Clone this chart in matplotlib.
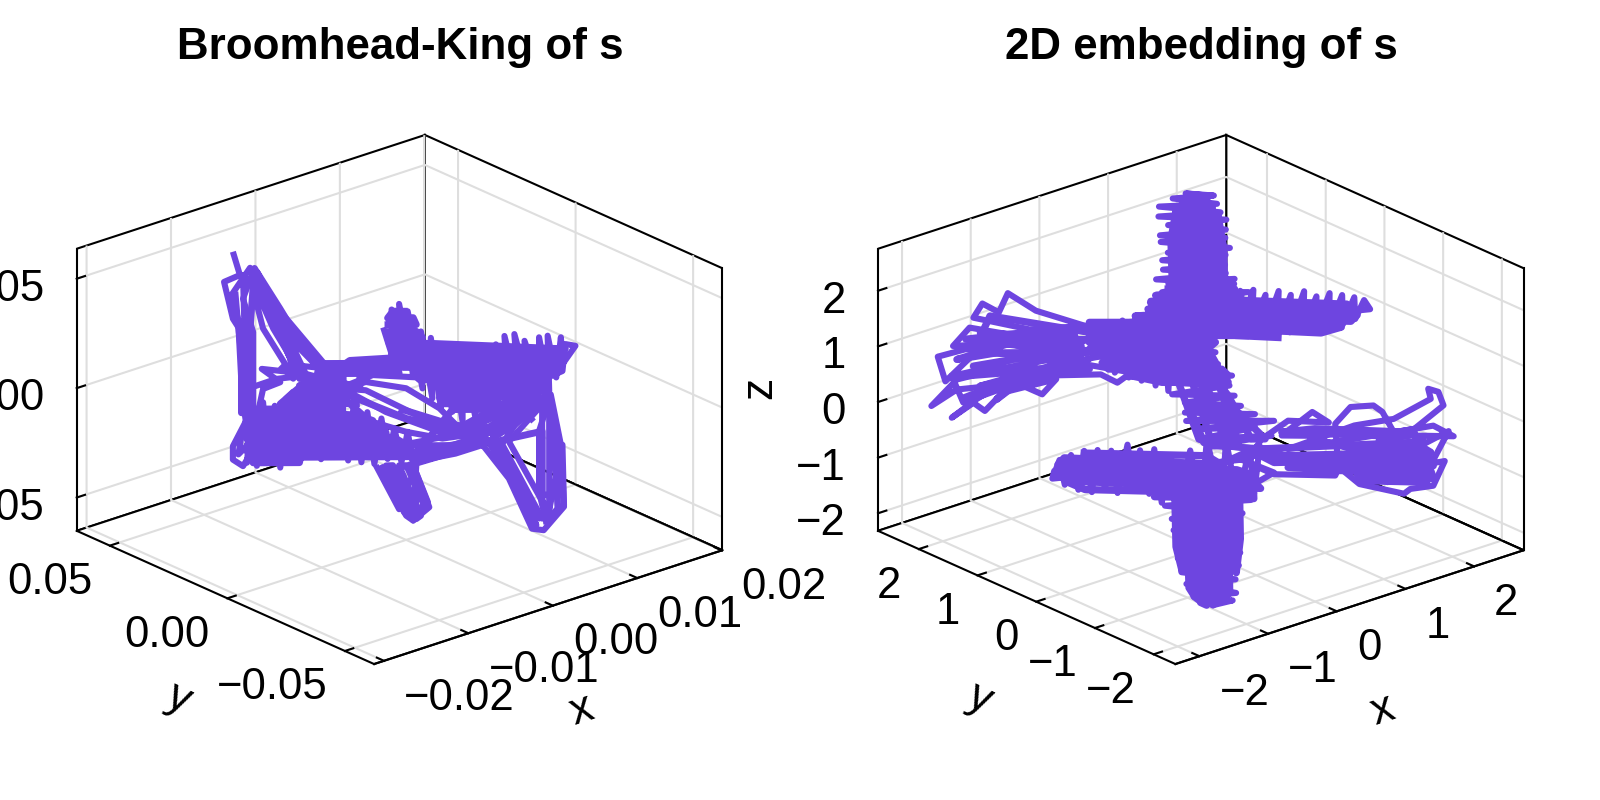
import numpy as np
import matplotlib
matplotlib.use('Agg')
import matplotlib.pyplot as plt
from mpl_toolkits.mplot3d import proj3d

plt.rcParams['font.family'] = ['Liberation Sans', 'DejaVu Sans']

PURPLE = '#6e45e0'
nan = float('nan')  # breaks a line

# Broomhead-King panel
# spikes and the strands on the left
bk_x = [-.0120, -.0115, -.0126, -.0120, -.0114, -.0113, -.0112, -.0109, -.0097,
        -.0113, -.0113, -.0121, -.0108, -.0094, -.0078, -.0058, -.0039, -.0074, -.0092, -.0103,
        -.0113, -.0112, -.0110, -.0090, -.0069, -.0103, -.0087, -.0069, -.0055, -.0076,
        -.0089, -.0105, -.0099, -.0080, -.0100, -.0087, -.0099,
        # lower left mass
        -.0110, -.0107, -.0103, -.0099, -.0095, -.0091, -.0087, -.0082, -.0077, -.0072,
        -.0068, -.0063, -.0059, -.0054, -.0049, -.0045, -.0040, -.0036, -.0031, -.0027,
        -.0022, -.0017, -.0013, -.0008, -.0003, .0001, .0005, .0009,
        # small loop
        -.0110, -.0120, -.0120, -.0113, -.0106, -.0108, -.0114, -.0116, -.0106,
        # crossing strands
        -.0064, -.0039, -.0012, .0018, -.0023, -.0064, -.0028, .0000, .0023, .0037,
        .0005, -.0028, -.0044, -.0014, .0023, .0060, .0025, .0000, -.0046, .0000,
        .0032, .0060, .0005, .0034, .0053, .0078, .0099, .0060, .0032, -.0005, nan,
        # right blob
        -.0016, -.0009, -.0010, -.0002, -.0005, .0005, .0001, .0011, .0010, .0018,
        .0017, .0024, .0023, .0032, .0031, .0039, .0039, .0048, .0047, .0055,
        .0055, .0062, .0062, .0071, .0068, .0078, .0075, .0085, .0082, .0092,
        .0092, .0099, .0098, .0104, .0107, .0108, .0117, .0110, .0108, .0087, nan,
        # lobes
        -.0021, -.0005, .0007, .0005, .0016, .0005, -.0009, .0001, .0011, nan,
        .0053, .0071, .0087, .0095, .0109, .0107, .0100, .0092, .0092, .0097, .0105, .0101, .0097,
        .0060, .0078, .0092, .0087, .0064, .0082, .0088]
bk_y = [.0306, .0294, .0322, .0306, .0291, .0288, .0285, .0279, .0247,
        .0288, .0289, .0309, .0276, .0241, .0200, .0147, .0100, .0188, .0235, .0265,
        .0288, .0285, .0282, .0229, .0176, .0265, .0223, .0176, .0141, .0194,
        .0226, .0268, .0253, .0206, .0255, .0223, .0253,
        .0282, .0273, .0265, .0253, .0244, .0232, .0223, .0209, .0197, .0185,
        .0173, .0162, .0150, .0138, .0126, .0115, .0103, .0091, .0079, .0068,
        .0056, .0044, .0032, .0021, .0009, -.0003, -.0012, -.0024,
        .0282, .0306, .0306, .0288, .0270, .0276, .0291, .0297, .0270,
        .0165, .0100, .0029, -.0047, .0059, .0165, .0071, .0000, -.0059, -.0094,
        -.0012, .0071, .0112, .0035, -.0059, -.0153, -.0065, .0000, .0118, .0000,
        -.0082, -.0153, -.0012, -.0088, -.0135, -.0200, -.0253, -.0153, -.0082, .0012, nan,
        .0040, .0024, .0026, .0006, .0012, -.0012, -.0003, -.0030, -.0027, -.0047,
        -.0044, -.0062, -.0059, -.0082, -.0079, -.0100, -.0100, -.0123, -.0120, -.0141,
        -.0141, -.0159, -.0159, -.0182, -.0174, -.0200, -.0191, -.0218, -.0209, -.0235,
        -.0235, -.0253, -.0250, -.0265, -.0274, -.0277, -.0300, -.0282, -.0277, -.0223, nan,
        .0053, .0012, -.0018, -.0012, -.0041, -.0012, .0024, -.0003, -.0030, nan,
        -.0135, -.0182, -.0223, -.0244, -.0280, -.0274, -.0256, -.0235, -.0235, -.0247, -.0268, -.0259, -.0247,
        -.0153, -.0200, -.0235, -.0223, -.0165, -.0209, -.0226]
bk_z = [.0669, .0562, .0531, .0363, .0301, .0117, -.0067, -.0189, -.0097,
        -.0067, .0286, .0470, .0595, .0431, .0255, .0117, .0056, .0117, .0317, .0485,
        .0562, .0301, .0041, .0087, .0102, .0577, .0408, .0209, .0133, .0148,
        .0393, .0470, .0317, .0117, .0133, .0071, .0041,
        -.0296, -.0051, -.0311, -.0020, -.0296, -.0036, -.0319, .0002, -.0296, .0041,
        -.0265, .0071, -.0281, .0087, -.0265, .0025, -.0288, -.0005, -.0296, -.0067,
        -.0304, -.0097, -.0281, -.0143, -.0296, -.0158, -.0304, -.0220,
        -.0097, -.0220, -.0281, -.0311, -.0235, -.0128, -.0174, -.0258, -.0189,
        .0056, .0171, .0182, .0087, .0102, -.0005, .0071, .0041, -.0051, -.0143,
        -.0074, .0033, .0041, -.0067, -.0158, -.0158, -.0189, -.0158, -.0067, -.0220,
        -.0220, -.0158, -.0296, -.0258, -.0220, -.0113, .0010, -.0097, -.0174, -.0220, nan,
        .0320, .0179, .0401, .0148, .0427, .0102, .0393, .0041, .0301, -.0005,
        .0271, -.0051, .0232, -.0067, .0232, -.0113, .0194, -.0097, .0232, -.0082,
        .0194, -.0051, .0240, -.0020, .0278, .0010, .0286, .0041, .0255, .0056,
        .0271, .0025, .0278, .0087, .0271, .0148, .0232, .0240, .0117, .0056, nan,
        -.0311, -.0511, -.0311, -.0564, -.0503, -.0311, -.0327, -.0541, -.0434, nan,
        -.0220, -.0373, -.0603, -.0610, -.0503, -.0220, .0010, -.0158, -.0434, -.0572, -.0511, -.0158, .0002,
        -.0174, -.0373, -.0557, -.0511, -.0235, -.0067, -.0113]

# second pass, the dense parts of the same trajectory
bk2_x = [-.0041, -.0064, -.0074, -.0044, -.0044, -.0078, -.0083, -.0044, -.0044, -.0108,
         -.0109, -.0034, -.0023, -.0110, -.0110, -.0016, -.0014, -.0110, -.0110, -.0007,
         .0000, -.0110, -.0110, .0000, .0005, -.0108, -.0106, -.0074,
         # centre band
         -.0060, -.0005, -.0005, -.0060, -.0060, -.0005,
         # right blob
         -.0013, .0007, .0011, -.0013, -.0012, .0016, .0110, -.0010, -.0010, .0110,
         .0108, -.0007, -.0002, .0105, .0101, .0005, .0009, .0098, .0092, .0023,
         .0023, .0085, .0076, .0023, .0025, .0064, .0055, .0032,
         # long strands
         .0005, .0037, .0060, .0097, .0097, .0060, .0037, .0007,
         -.0051, .0000, .0037, .0060, .0032, -.0005, nan,
         # left strands
         -.0116, -.0114, -.0114, -.0108, -.0108,
         -.0105, -.0092, -.0056, -.0060, -.0095, -.0107, nan,
         # lobes
         -.0017, -.0001, .0009, .0013, .0002,
         .0057, .0076, .0090, .0085, .0062, .0094, .0094, .0107, .0105, .0098]
bk2_y = [.0106, .0165, .0188, .0112, .0112, .0200, .0212, .0112, .0112, .0276,
         .0279, .0088, .0059, .0282, .0282, .0041, .0035, .0282, .0282, .0018,
         .0000, .0282, .0282, .0000, -.0012, .0276, .0270, .0188,
         .0153, .0012, .0012, .0153, .0153, .0012,
         .0032, -.0018, -.0030, .0032, .0029, -.0041, -.0282, .0026, .0026, -.0282,
         -.0277, .0018, .0006, -.0268, -.0259, -.0012, -.0024, -.0250, -.0235, -.0059,
         -.0059, -.0218, -.0195, -.0059, -.0065, -.0165, -.0141, -.0082,
         -.0012, -.0094, -.0153, -.0247, -.0247, -.0153, -.0094, -.0018,
         .0129, .0000, -.0094, -.0153, -.0082, .0012, nan,
         .0295, .0291, .0291, .0277, .0277,
         .0268, .0235, .0144, .0153, .0244, .0273, nan,
         .0044, .0003, -.0024, -.0033, -.0005,
         -.0146, -.0195, -.0229, -.0218, -.0159, -.0241, -.0241, -.0274, -.0268, -.0250]
bk2_z = [.0087, .0087, .0056, .0056, .0025, .0025, -.0005, -.0005, -.0051, -.0051,
         -.0079, -.0079, -.0106, -.0106, -.0134, -.0134, -.0161, -.0161, -.0189, -.0189,
         -.0216, -.0216, -.0244, -.0244, -.0272, -.0272, -.0296, -.0296,
         .0156, .0156, .0133, .0133, .0110, .0110,
         .0301, .0301, .0274, .0274, .0246, .0246, .0218, .0218, .0191, .0191,
         .0163, .0163, .0136, .0136, .0108, .0108, .0081, .0081, .0053, .0053,
         .0025, .0025, -.0002, -.0002, -.0030, -.0030, -.0057, -.0057,
         -.0273, -.0220, -.0128, .0041, -.0005, -.0143, -.0243, -.0296,
         .0041, -.0097, -.0158, -.0143, -.0128, -.0051, nan,
         .0332, .0102, -.0067, -.0067, .0301,
         .0592, .0431, .0148, .0133, .0416, .0577, nan,
         -.0311, -.0526, -.0541, -.0465, -.0311,
         -.0204, -.0403, -.0587, -.0541, -.0204, -.0158, -.0449, -.0449, -.0189, -.0005]

# rows that close the gaps in the mass and at the top of the blob
bk3_x = [-.0062, -.0032, -.0032, -.0074, -.0087, -.0032, nan, -.0015, .0007, .0005, -.0013, -.0009, .0001]
bk3_y = [.0159, .0082, .0082, .0188, .0223, .0082, nan, .0038, -.0018, -.0012, .0032, .0024, -.0003]
bk3_z = [.0117, .0117, .0048, .0048, -.0028, -.0028, nan, .0332, .0332, .0363, .0363, .0393, .0393]

# more of the strands under the left spikes
bk4_x = [-.0118, -.0116, -.0110, -.0106, -.0106, -.0113, -.0107, -.0087, -.0069, -.0074, -.0100, -.0080, -.0078, -.0087]
bk4_y = [.0303, .0295, .0282, .0270, .0270, .0288, .0273, .0223, .0176, .0188, .0255, .0206, .0200, .0223]
bk4_z = [.0485, .0301, -.0067, -.0067, .0301, .0454, .0562, .0317, .0087, .0087, .0470, .0179, .0087, .0148]

# lower lobes
bk5_x = [-.0018, .0000, .0005, -.0014, -.0009, .0007, .0010, -.0005, .0000, .0014, .0015, .0005]
bk5_y = [.0047, .0000, -.0012, .0035, .0024, -.0018, -.0027, .0012, .0000, -.0035, -.0039, -.0012]
bk5_z = [-.0311, -.0541, -.0564, -.0311, -.0311, -.0557, -.0541, -.0311, -.0311, -.0511, -.0480, -.0311]

bk6_x = [.0064, .0094, .0097, .0071, .0094, .0094, .0099, .0099, .0104, .0105, .0109, .0108, .0097]
bk6_y = [-.0165, -.0241, -.0247, -.0182, -.0241, -.0241, -.0253, -.0253, -.0265, -.0268, -.0280, -.0277, -.0247]
bk6_z = [-.0189, -.0557, -.0511, -.0204, -.0036, -.0465, -.0572, -.0036, -.0189, -.0511, -.0496, -.0220, -.0587]

# solid wedge under the right blob
bk7_x = [.0032, .0087, .0094, .0041, .0048, .0099, nan, .0005, .0055, .0046, .0005]
bk7_y = [-.0082, -.0223, -.0241, -.0106, -.0123, -.0253, nan, -.0012, -.0141, -.0117, -.0012]
bk7_z = [-.0158, .0041, .0041, -.0158, -.0189, -.0005, nan, -.0281, -.0189, -.0204, -.0251]

# 2D embedding panel
# left fan
emb_x = [-.72, -1.27, -1.49, -1.56, -1.69, -1.76, -1.32, -.85, -1.27, -1.79, -1.92, -1.48, -.91, -1.48, -1.82,
         -2.04, -1.98, -1.76, -1.27, -1.69, -1.93, -1.84, -1.48, -.85, -1.22, -1.63, -1.89, -2.09, -1.89, -1.58,
         -1.04, -1.37, -1.22, -1.11, -1.53, -1.67, -1.76, -1.93, -1.74, -1.45, -.76, -.63, -.52, -1.11, -1.71,
         -.96, -1.58, -.85, -1.37, -.91, -1.17, -.59,
         # solid part of the left arm
         -.70, -.65, -.59, -.54, -.49, -.44, -.39, -.33, -.28, -.23, -.18, -.13,
         # centre of the upper cross
         -.23, .29, -.28, .40, -.37, .45, -.39, .50, -.46, .50, -.49, .45, -.49, .40, -.49, .08, -.49, .08, -.39,
         # upper arm
         .84, .31, .94, .53, 1.10, .69, 1.27, .90, 1.47, 1.01, 1.60, 1.17, 1.77, 1.40, 1.94, 1.49, 2.06, 1.66, 2.18,
         1.74, 2.10, 1.86, 2.06,
         # right arm of the upper cross
         .70, -.15, .74, -.01, .88, .13, .92, .19, 1.06, .35, 1.10, .41, 1.26, .57, 1.32, .65, 1.46, .81, 1.54, 1.01,
         1.58, 1.20, 1.62, 1.52, 1.32, .45, .05,
         # between the crosses
         -.28, .14, -.33, .16, -.28, .27, -.26, .25, -.20, .29, -.10, .34, -.10, .45, -.09, .60, -.01, .45, .01, .58,
         .08, .66, .34, .60, .42,
         # right fan
         .45, .60, 1.08, 1.11, 1.27, 1.62, 1.67, 1.85, 1.94, 1.75, 1.12, 1.49, 1.80, 1.97, 1.70, 1.23, 1.57, 1.83,
         1.42, 1.68, 2.01, 1.85, 1.23, .71, 1.23, 1.54, 1.83, 1.81, 1.89, 1.93, 1.70, 1.54, 1.45, 1.38, 1.20, 1.08,
         1.10, 1.64, 1.75, 1.18, 1.49, 1.83, 1.23, 1.77, 1.36, .86, .66, .90, 1.03, .71, .50, .40,
         # left arm of the lower cross
         -.44, -.07, -.43, .14, -.42, .34, -.36, .51, -.22, .58, -.14, .80, .04, .82, .09, .95, .05, 1.00, .12, 1.26,
         .30, 1.58, .46, 1.73, .71, 1.79, .96, 1.93,
         # lower arm
         .21, .81, .02, .50, -.18, .23, -.41, -.03, -.64, -.26, -.87, -.52, -1.09, -.79, -1.30, -1.03, -1.47, -1.53,
         -1.20, -1.45, -1.04]
emb_y = [.72, 1.27, 1.49, 1.56, 1.69, 1.76, 1.32, .85, 1.27, 1.79, 1.92, 1.48, .91, 1.48, 1.82,
         2.04, 1.98, 1.76, 1.27, 1.69, 1.93, 1.84, 1.48, .85, 1.22, 1.63, 1.89, 2.09, 1.89, 1.58,
         1.04, 1.37, 1.22, 1.11, 1.53, 1.67, 1.76, 1.93, 1.74, 1.45, .76, .63, .52, 1.11, 1.71,
         .96, 1.58, .85, 1.37, .91, 1.17, .59,
         .70, .65, .59, .54, .49, .44, .39, .33, .28, .23, .18, .13,
         .23, -.29, .28, -.40, .37, -.45, .39, -.50, .46, -.50, .49, -.45, .49, -.40, .49, -.08, .49, -.08, .39,
         .36, 1.07, .62, 1.21, .82, 1.41, 1.01, 1.56, 1.17, 1.81, 1.40, 2.01, 1.59, 2.14, 1.78, 2.41, 2.02, 2.60, 2.22,
         2.46, 2.18, 2.38, 2.26,
         .30, -.65, .14, -.71, .08, -.77, -.08, -.91, -.14, -.95, -.30, -1.09, -.34, -1.13, -.48, -1.25, -.54, -1.29,
         -.66, -1.29, -.82, -1.28, -.94, -1.16, -1.08, -.45, -.05,
         .28, -.14, .33, -.16, .28, -.27, .26, -.25, .20, -.29, .10, -.34, .10, -.45, .09, -.60, .01, -.45, -.01, -.58,
         -.08, -.66, -.34, -.60, -.42,
         -.45, -.60, -1.08, -1.11, -1.27, -1.62, -1.67, -1.85, -1.94, -1.75, -1.12, -1.49, -1.80, -1.97, -1.70, -1.23,
         -1.57, -1.83, -1.42, -1.68, -2.01, -1.85, -1.23, -.71, -1.23, -1.54, -1.83, -1.81, -1.89, -1.93, -1.70, -1.54,
         -1.45, -1.38, -1.20, -1.08, -1.10, -1.64, -1.75, -1.18, -1.49, -1.83, -1.23, -1.77, -1.36, -.86, -.66, -.90,
         -1.03, -.71, -.50, -.40,
         1.96, 2.27, 1.76, 2.32, 1.54, 2.33, 1.38, 2.30, 1.32, 2.15, 1.20, 2.13, 1.12, 1.94, .93, 1.85, .67, 1.63, .47,
         1.60, .29, 1.69, .13, 1.54, .15, 1.21, .16, 1.20,
         .92, .04, .58, -.18, .23, -.45, -.07, -.72, -.38, -1.03, -.68, -1.31, -1.00, -1.57, -1.33, -1.86, -1.65, -1.83,
         -2.00, -1.95, -1.59]
emb_z = [1.53, 1.88, 2.18, 1.83, 1.98, 1.72, 1.54, 1.64, 1.37, 1.54, 1.20, 1.29, 1.27, 1.08, 1.15,
         1.00, .56, 1.06, 1.13, .80, .66, .19, .51, 1.04, .77, .50, .42, .11, .60, .80,
         .87, .52, .38, .66, .39, .05, .19, -.09, .25, .69, .77, .63, .82, 1.02, 1.45,
         1.45, 1.34, 1.40, .91, 1.12, .89, 1.18,
         1.62, .81, 1.75, .73, 1.81, .68, 1.91, .60, 2.04, .51, 2.17, .85,
         2.46, 2.56, 2.28, 2.33, 2.12, 2.18, 1.97, 2.04, 1.85, 1.89, 1.69, 1.73, 1.54, 1.58, 1.39, 1.38, 1.24, 1.23, 1.13,
         1.94, 1.90, 1.97, 1.92, 1.96, 1.93, 1.98, 1.91, 1.95, 1.94, 1.97, 1.90, 1.96, 1.93, 1.98, 1.92, 1.95, 1.94, 1.96,
         2.12, 2.16, 2.20, 2.14,
         1.94, 1.92, 1.96, 1.93, 1.95, 1.97, 1.92, 1.94, 1.96, 1.91, 1.95, 1.93, 1.97, 1.94, 1.92, 1.96, 1.95, 1.93, 1.94,
         1.92, 1.96, 1.94, 1.95, 1.93, 1.94, 1.90, 1.50,
         1.32, 1.23, 1.08, 1.02, .84, .82, .66, .64, .45, .46, .31, .28, .13, .14, -.02, .03, -.16, -.10, -.34, -.24,
         -.46, -.47, -.68, -.90, -1.15,
         -.79, -.93, -.92, -.77, -1.06, -1.21, -1.12, -1.05, -.60, -.69, -.62, -1.01, -.81, -.06, -.40, -.43, -.83, -.45,
         -.27, -.16, -.15, .03, -.25, -.47, -.01, .13, .51, .69, .64, .40, -.04, -.11, .25, .36, .32, .01,
         -.68, -.94, -.51, -.86, -.59, -.93, -.73, -.21, -.54, -.22, -.23, .21, .03, .04, -.31, -.67,
         -1.80, -1.76, -1.82, -1.78, -1.81, -1.79, -1.80, -1.83, -1.78, -1.80, -1.82, -1.77, -1.81, -1.79, -1.80, -1.78,
         -1.82, -1.80, -1.79, -1.81, -1.80, -1.78, -1.82, -1.79, -1.81, -1.80, -1.78, -1.81,
         -1.80, -1.78, -1.82, -1.79, -1.81, -1.80, -1.78, -1.82, -1.80, -1.79, -1.81, -1.78, -1.82, -1.80, -1.79, -1.81,
         -1.80, -1.78, -1.81, -1.82, -1.79]

# second pass, the dense parts
emb2_x = [-.85, -1.63, -1.74, -1.11, -.85, -1.58, -1.89, -1.37, -.96, -1.71, -1.11, -.85, -1.50, -1.82, -1.27,
          -1.58, -1.37, -.91, -1.48, -1.11, -1.82, -1.37, -.98, -1.76, -1.24, -1.66, -1.87, nan,
          # centre of the upper cross
          -.26, .29, -.33, .34, -.37, .40, -.39, .45, -.49, .45, .45, -.85, -.85, .45, .40, -.85, -.85, .14, .08, -.85,
          -.80, .11, .14, -.75, -.70, .19, .24, -.52, -.28, .24,
          # upper arm
          -.07, 1.15, 1.75, -.03, .02, 1.95, 2.09, .07, .11, 2.13, 2.18, .16, .21, 2.16, 2.12, .25, .30, 2.01, 1.44, .34,
          .38, .87,
          # right arm
          .54, 1.42, 1.36, .43, .32, 1.28, 1.12, .21, .10, .93, .66, -.01, -.12, .24, nan,
          # between the crosses
          -.15, .01, .11, -.05, .06, .21, .32, .16, .24, .42, .53, .32, -.07, .05,
          # right fan
          .45, 1.70, 1.83, .50, .60, 1.85, 1.85, .71, 1.10, 1.83, 1.85, 1.25, 1.28, 1.80, 1.70, .92, .66, 1.44, nan,
          # lower cross, left arm
          .28, 1.27, 1.27, .04, -.12, 1.28, 1.30, -.26, -.38, 1.19, 1.14, -.40, -.35, .97, .87, .09,
          # lower arm
          .40, -.70, -1.08, .45, .49, -1.34, -1.48, .54, .59, -1.53, -1.51, .63, .68, -1.46, -1.35, .73, .77, -1.28,
          -1.08, .82, .87, -.66, -.01, .91]
emb2_y = [.85, 1.63, 1.74, 1.11, .85, 1.58, 1.89, 1.37, .96, 1.71, 1.11, .85, 1.50, 1.82, 1.27,
          1.58, 1.37, .91, 1.48, 1.11, 1.82, 1.37, .98, 1.76, 1.24, 1.66, 1.87, nan,
          .26, -.29, .33, -.34, .37, -.40, .39, -.45, .49, -.45, -.45, .85, .85, -.45, -.40, .85, .85, -.14, -.08, .85,
          .80, -.11, -.14, .75, .70, -.19, -.24, .52, .28, -.24,
          .34, 1.80, 2.41, .30, .25, 2.54, 2.60, .20, .16, 2.56, 2.51, .11, .06, 2.39, 2.23, .02, -.03, 2.01, 1.24, -.07,
          -.11, .47,
          .00, -.88, -1.07, -.13, -.26, -1.22, -1.30, -.39, -.52, -1.36, -1.33, -.65, -.78, -1.15, nan,
          .15, -.01, -.11, .05, -.06, -.21, -.32, -.16, -.24, -.42, -.53, -.32, .07, -.05,
          -.45, -1.70, -1.83, -.50, -.60, -1.85, -1.85, -.71, -1.10, -1.83, -1.85, -1.25, -1.28, -1.80, -1.70, -.92, -.66,
          -1.44, nan,
          2.32, 1.33, 1.09, 2.32, 2.24, .83, .57, 2.13, 2.01, .44, .26, 1.79, 1.51, .18, .06, .84,
          .86, -.45, -1.00, .81, .77, -1.42, -1.68, .72, .67, -1.84, -1.92, .63, .58, -1.97, -1.94, .53, .49, -1.95,
          -1.81, .44, .39, -1.43, -.74, .35]
emb2_z = [1.52, 1.76, 1.21, 1.38, 1.16, 1.10, .96, 1.36, 1.03, .49, .84, .86, .75, .67, .95,
          .26, .64, .97, 1.41, 1.56, 1.33, 1.24, 1.21, .85, .71, .44, .24, nan,
          2.34, 2.38, 2.22, 2.26, 2.09, 2.15, 1.97, 2.03, 1.84, 1.91, 1.79, 1.70, 1.58, 1.67, 1.55, 1.46, 1.34, 1.41, 1.29,
          1.22, 1.10, 1.17, 1.05, .98, .87, .93, .82, .76, .66, .70,
          1.94, 1.93, 1.95, 1.94, 1.93, 1.95, 1.94, 1.93, 1.95, 1.94, 1.93, 1.95, 1.94, 1.93, 1.95, 1.94, 1.93, 1.95, 1.94,
          1.93, 1.95, 1.94,
          1.94, 1.93, 1.95, 1.94, 1.93, 1.95, 1.94, 1.93, 1.95, 1.94, 1.93, 1.95, 1.94, 1.93, nan,
          .67, -.34, -.39, .74, .74, -.39, -.38, .69, .46, -.31, -.30, .16, .25, -.40,
          -.49, -.28, -.45, -.61, -.72, -.57, -.69, -.80, -.83, -.78, -.90, -.88, -1.00, -.99, -.10, -.09, -.17, -.18, nan,
          -1.80, -1.78, -1.82, -1.79, -1.81, -1.80, -1.78, -1.82, -1.80, -1.79, -1.81, -1.78, -1.82, -1.80, -1.79, -1.81,
          -1.80, -1.78, -1.81, -1.82, -1.79, -1.80, -1.78, -1.82, -1.80, -1.79, -1.81, -1.78, -1.82, -1.80, -1.79, -1.81,
          -1.80, -1.78, -1.81, -1.82, -1.79, -1.80, -1.78, -1.82]

bk_xticks = [-0.02, -0.01, 0.0, 0.01, 0.02]
bk_xlabels = ['\u22120.02', '\u22120.01', '0.00', '0.01', '0.02']
bk_yticks = [-0.05, 0.0, 0.05]
bk_ylabels = ['\u22120.05', '0.00', '0.05']
bk_zticks = [-0.05, 0.0, 0.05]
bk_zlabels = ['\u22120.05', '0.00', '0.05']
emb_ticks = [-2, -1, 0, 1, 2]
emb_labels = ['\u22122', '\u22121', '0', '1', '2']


def setup(ax, xlim, ylim, zlim):
    ax.set_proj_type('ortho')
    ax.view_init(elev=22.5, azim=-130.5)
    ax.set_box_aspect((1, 1, 2 / 3))
    ax.set_xlim(xlim)
    ax.set_ylim(ylim)
    ax.set_zlim(zlim)
    ax.patch.set_alpha(0)
    ax.computed_zorder = False
    for axis in (ax.xaxis, ax.yaxis, ax.zaxis):
        axis.set_pane_color((1, 1, 1, 1))
        axis.pane.set_edgecolor('black')
        axis.pane.set_linewidth(0.75)
        axis.line.set_color('black')
        axis.line.set_linewidth(0.75)
        axis._axinfo['grid'].update(color='#dedede', linewidth=0.75)
        axis._axinfo['tick'].update(inward_factor=0.0, outward_factor=0.3)
        axis._axinfo['tick']['linewidth'] = {True: 0.75, False: 0.75}
    # the panes leave these two edges of the box open
    ax.plot([xlim[1], xlim[1]], [ylim[0], ylim[0]], zlim, color='black', linewidth=0.75, zorder=1)
    ax.plot([xlim[1], xlim[1]], ylim, [zlim[0], zlim[0]], color='black', linewidth=0.75, zorder=1)


def tick_text(ax, xs, ys, zs, labels, dx, dy, ha):
    # text is anchored on the projected tick position
    M = ax.get_proj()
    for x, y, z, label in zip(xs, ys, zs, labels):
        px, py, _ = proj3d.proj_transform(x, y, z, M)
        ax.annotate(label, xy=(px, py), xycoords='data', xytext=(dx, dy), textcoords='offset points',
                    ha=ha, va='center', fontsize=15.7, annotation_clip=False)


def ticks(ax, xticks, xlabels, yticks, ylabels, zticks, zlabels):
    ax.set_xticks(xticks, [''] * len(xticks))
    ax.set_yticks(yticks, [''] * len(yticks))
    ax.set_zticks(zticks, [''] * len(zticks))
    x0 = ax.get_xlim()[0]
    y0, y1 = ax.get_ylim()
    z0 = ax.get_zlim()[0]
    tick_text(ax, xticks, [y0] * len(xticks), [z0] * len(xticks), xlabels, 7.2, -13.4, 'left')
    tick_text(ax, [x0] * len(yticks), yticks, [z0] * len(yticks), ylabels, -6.4, -13.3, 'right')
    tick_text(ax, [x0] * len(zticks), [y1] * len(zticks), zticks, zlabels, -11.5, -3.8, 'right')


def draw(ax, x, y, z, lw):
    ax.plot(x, y, z, color=PURPLE, linewidth=lw, solid_joinstyle='round', solid_capstyle='butt', zorder=3)


fig = plt.figure(figsize=(8, 4), dpi=200)

ax1 = fig.add_axes([42.6 / 1600, 43.6 / 800, 695 / 1600, 695 / 800], projection='3d')
setup(ax1, (-0.02117, 0.02007), (-0.0624, 0.0641), (-0.0652, 0.0637))
draw(ax1, bk_x, bk_y, bk_z, 2.2)
draw(ax1, bk2_x, bk2_y, bk2_z, 2.5)
draw(ax1, bk3_x, bk3_y, bk3_z, 2.5)
draw(ax1, bk4_x, bk4_y, bk4_z, 2.2)
draw(ax1, bk5_x, bk5_y, bk5_z, 2.2)
draw(ax1, bk6_x, bk6_y, bk6_z, 2.2)
draw(ax1, bk7_x, bk7_y, bk7_z, 2.5)
ticks(ax1, bk_xticks, bk_xlabels, bk_yticks, bk_ylabels, bk_zticks, bk_zlabels)

ax2 = fig.add_axes([843.9 / 1600, 43.6 / 800, 695 / 1600, 695 / 800], projection='3d')
setup(ax2, (-2.35, 2.72), (-2.37, 2.695), (-2.315, 2.755))
draw(ax2, emb_x, emb_y, emb_z, 2.2)
draw(ax2, emb2_x, emb2_y, emb2_z, 2.6)
ticks(ax2, emb_ticks, emb_labels, emb_ticks, emb_labels, emb_ticks, emb_labels)

fig.text(400 / 1600, 1 - 48 / 800, 'Broomhead-King of s', ha='center', va='center', fontsize=15.8, fontweight='bold')
fig.text(1201 / 1600, 1 - 48 / 800, '2D embedding of s', ha='center', va='center', fontsize=15.8, fontweight='bold')

for off in (0, 801):
    fig.text((582 + off) / 1600, 1 - 711 / 800, 'x', ha='center', va='center', fontsize=16, rotation=18)
    fig.text((179 + off) / 1600, 1 - 699 / 800, 'y', ha='center', va='center', fontsize=16, rotation=-25)
fig.text(760 / 1600, 1 - 388 / 800, 'z', ha='center', va='center', fontsize=16, rotation=90)

fig.savefig('out.png', dpi=200)
